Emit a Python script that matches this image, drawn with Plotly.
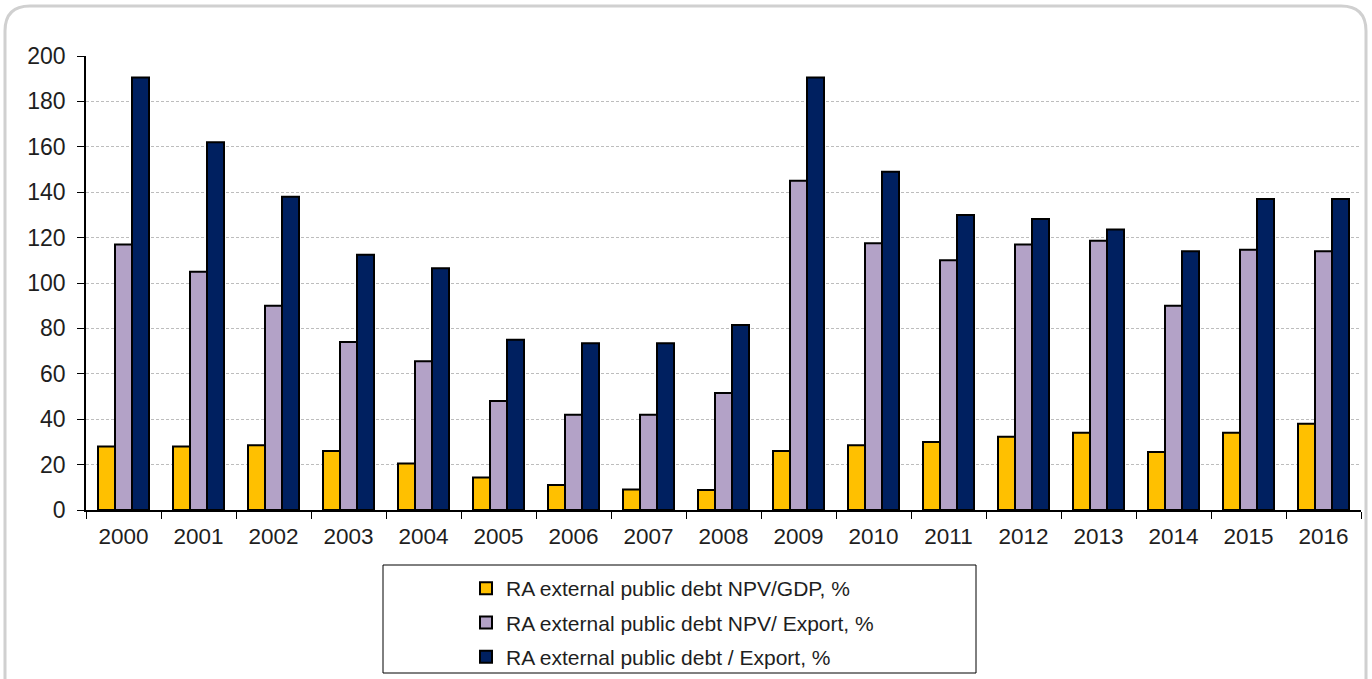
import plotly.graph_objects as go

years = [str(y) for y in range(2000, 2017)]
npv_gdp = [28, 28, 28.5, 26, 20.5, 14.3, 11, 9, 8.8, 26, 28.5, 30, 32.3, 34, 25.6, 34, 38]
npv_export = [117, 105, 90, 74, 65.5, 48, 42, 42, 51.5, 145, 117.5, 110, 117, 118.6, 90, 114.7, 114]
debt_export = [190.5, 162, 138, 112.5, 106.5, 75, 73.5, 73.5, 81.5, 190.5, 149, 130, 128.2, 123.6, 114, 137, 137]

names = ["RA external public debt NPV/GDP, %",
         "RA external public debt NPV/ Export, %",
         "RA external public debt / Export, %"]
colors = ["#FFC000", "#B3A2C7", "#002060"]
series = [npv_gdp, npv_export, debt_export]

fig = go.Figure()
for i, (nm, col, vals) in enumerate(zip(names, colors, series)):
    fig.add_trace(go.Bar(
        x=years, y=vals, name=nm, legendgroup=f"g{i}",
        marker=dict(color=col, line=dict(color="black", width=2)),
    ))

W, H = 1372, 679
L, R, T, B = 86, 11, 56, 169
pw, ph = W - L - R, H - T - B

def px(x):
    return (x - L) / pw

def py(y):
    return (T + ph - y) / ph

# rounded outer border
x0, x1, y0, y1 = px(5), px(1366), py(6), py(700)
rx, ry = 25 / pw, 25 / ph
path = (f"M {x0},{y1} L {x0},{y0 - ry} Q {x0},{y0} {x0 + rx},{y0} "
        f"L {x1 - rx},{y0} Q {x1},{y0} {x1},{y0 - ry} L {x1},{y1}")

shapes = [
    dict(type="path", xref="paper", yref="paper", path=path,
         line=dict(color="#D0D0D0", width=3), layer="below"),
    dict(type="line", xref="paper", yref="y", x0=0, x1=1, y0=200, y1=200,
         line=dict(color="white", width=2), layer="below"),
    dict(type="rect", xref="paper", yref="paper",
         x0=px(383), x1=px(976), y0=py(565), y1=py(673),
         line=dict(color="black", width=1)),
]

fig.update_layout(
    width=W, height=H,
    margin=dict(l=L, r=R, t=T, b=B, autoexpand=False),
    plot_bgcolor="white", paper_bgcolor="white",
    barmode="group", bargap=0.32, bargroupgap=0,
    font=dict(family="Liberation Sans, Arial, sans-serif", color="#1E1E1E"),
    shapes=shapes,
    legend=dict(
        x=px(466), y=py(568), xanchor="left", yanchor="top",
        orientation="v", traceorder="grouped", tracegroupgap=4,
        font=dict(size=21, color="#1E1E1E"),
        bgcolor="rgba(0,0,0,0)", borderwidth=0,
    ),
    xaxis=dict(
        type="category", showline=True, linecolor="black", linewidth=1.5,
        ticks="outside", tickson="boundaries", ticklen=7, tickcolor="black",
        tickfont=dict(size=22.5), showgrid=False, ticklabelstandoff=5,
    ),
    yaxis=dict(
        range=[0, 200], tickvals=list(range(0, 201, 20)),
        showline=True, linecolor="black", linewidth=1.5,
        ticks="outside", ticklen=7, tickcolor="black",
        tickfont=dict(size=23), ticklabelstandoff=7,
        showgrid=True, gridcolor="#BDBDBD", gridwidth=1, griddash="3px,2px",
        zeroline=False,
    ),
)

fig.write_html("out.html")
